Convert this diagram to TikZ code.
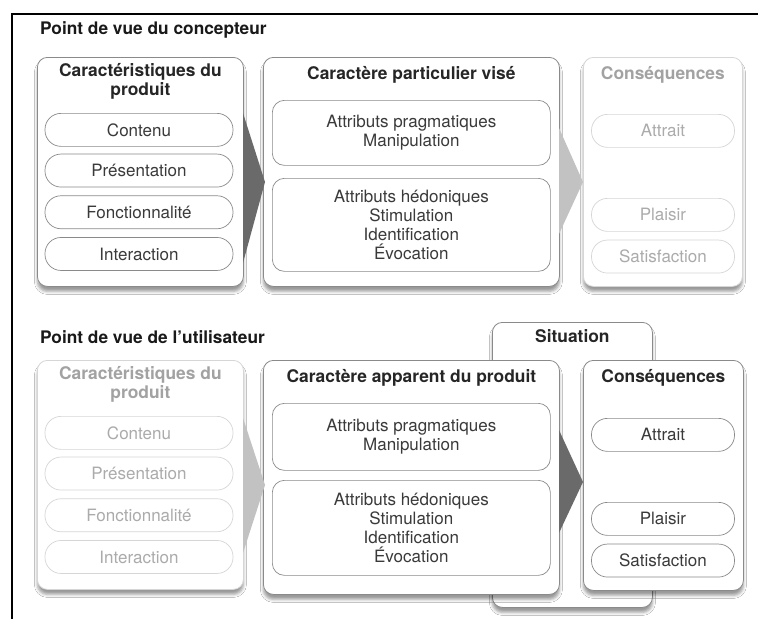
\documentclass[tikz,border=0pt]{standalone}
\usepackage{fontspec}
\setmainfont{TeX Gyre Heros}
\usepackage{xcolor}
\usetikzlibrary{positioning,shadows.blur}

\definecolor{inkDark}{HTML}{3A3A3A}
\definecolor{lineDark}{HTML}{8A8A8A}
\definecolor{inkLight}{HTML}{ABABAB}
\definecolor{lineLight}{HTML}{D6D6D6}
\definecolor{arrowDark}{HTML}{6A6A6A}
\definecolor{arrowLight}{HTML}{C2C2C2}

\begin{document}
\begin{tikzpicture}[
  x=1pt, y=-1pt,
  every node/.style={align=center, font=\fontsize{17}{18.8}\selectfont},
  frame/.style={line width=1.4pt, black},
  title/.style={anchor=west, inner sep=0pt, font=\fontsize{17.3}{19}\selectfont\bfseries, text=black!90},
  panel/.style={draw=lineDark, fill=white, rounded corners=10pt, line width=0.8pt, anchor=north west,
    blur shadow={shadow xshift=0pt, shadow yshift=-5pt, shadow blur radius=3pt, shadow opacity=40}},
  panelFaint/.style={panel, draw=lineLight},
  head/.style={inner sep=1pt, font=\fontsize{17.4}{18.8}\selectfont\bfseries, text=black!85},
  headFaint/.style={head, text=inkLight!95!black},
  pill/.style={draw=lineDark, rounded corners=16pt, line width=0.7pt, minimum width=188pt, minimum height=33pt, inner sep=0pt, text=inkDark},
  pillFaint/.style={pill, draw=lineLight, text=inkLight},
  attrBox/.style={draw=lineDark, rounded corners=12pt, line width=0.7pt, anchor=north west, minimum width=278pt, text=inkDark},
  arrowFill/.style={fill=arrowDark},
  arrowFaint/.style={fill=arrowLight}
]
\useasboundingbox (0,0) rectangle (758,619);
\fill[white] (0,0) rectangle (758,619);

% frame
\draw[frame] (12,619) -- (12,14) -- (758,14);

% ---- point de vue du concepteur
\node[title] (titleTop) at (40,30) {Point de vue du concepteur};

\node[panel, minimum width=206pt, minimum height=229pt] (prodTop) at (37,57) {};
\node[head, below=5pt of prodTop.north] (prodTopHead) {Caractéristiques du\\produit};
\node[pill, anchor=north] (contenuTop) at (139,113) {Contenu};
\node[pill, below=7pt of contenuTop] (presTop) {Présentation};
\node[pill, below=8pt of presTop] (fonctTop) {Fonctionnalité};
\node[pill, below=8pt of fonctTop] (interTop) {Interaction};

\node[panel, minimum width=296pt, minimum height=229pt] (visTop) at (263,57) {};
\node[head, below=8pt of visTop.north] (visTopHead) {Caractère particulier visé};
\node[attrBox, minimum height=65pt] (pragTop) at (272,100) {Attributs pragmatiques\\Manipulation};
\node[attrBox, minimum height=93pt] (hedTop) at (272,178) {Attributs hédoniques\\Stimulation\\Identification\\Évocation};

\node[panelFaint, minimum width=159pt, minimum height=229pt] (consTop) at (583,57) {};
\node[headFaint, below=8pt of consTop.north] (consTopHead) {Conséquences};
\node[pillFaint, minimum width=143pt, anchor=north] (attraitTop) at (663,114) {Attrait};
\node[pillFaint, minimum width=143pt, anchor=north] (plaisirTop) at (663,198) {Plaisir};
\node[pillFaint, minimum width=143pt, below=8pt of plaisirTop] (satisTop) {Satisfaction};

\fill[arrowFill] (243,113) -- (265,182) -- (243,263) -- cycle;
\fill[arrowFaint] (559,128) -- (583,182) -- (559,234) -- cycle;

% ---- point de vue de l'utilisateur
\node[title] (titleBot) at (40,337) {Point de vue de l’utilisateur};

\node[panel, minimum width=160pt, minimum height=285pt] (situation) at (492,322) {};
\node[head, below=6pt of situation.north] (situationHead) {Situation};

\node[panelFaint, minimum width=206pt, minimum height=229pt] (prodBot) at (37,360) {};
\node[headFaint, below=5pt of prodBot.north] (prodBotHead) {Caractéristiques du\\produit};
\node[pillFaint, anchor=north] (contenuBot) at (139,416) {Contenu};
\node[pillFaint, below=7pt of contenuBot] (presBot) {Présentation};
\node[pillFaint, below=8pt of presBot] (fonctBot) {Fonctionnalité};
\node[pillFaint, below=8pt of fonctBot] (interBot) {Interaction};

\node[panel, minimum width=296pt, minimum height=234pt] (appBot) at (263,360) {};
\node[head, below=8pt of appBot.north] (appBotHead) {Caractère apparent du produit};
\node[attrBox, minimum height=67pt] (pragBot) at (272,403) {Attributs pragmatiques\\Manipulation};
\node[attrBox, minimum height=95pt] (hedBot) at (272,480) {Attributs hédoniques\\Stimulation\\Identification\\Évocation};

\node[panel, minimum width=160pt, minimum height=230pt] (consBot) at (583,360) {};
\node[head, below=8pt of consBot.north] (consBotHead) {Conséquences};
\node[pill, minimum width=143pt, anchor=north] (attraitBot) at (663,418) {Attrait};
\node[pill, minimum width=143pt, anchor=north] (plaisirBot) at (663,502) {Plaisir};
\node[pill, minimum width=143pt, below=8pt of plaisirBot] (satisBot) {Satisfaction};

\fill[arrowFaint] (243,418) -- (265,485) -- (243,553) -- cycle;
\fill[arrowFill] (559,430) -- (583,482) -- (559,533) -- cycle;
\end{tikzpicture}
\end{document}
